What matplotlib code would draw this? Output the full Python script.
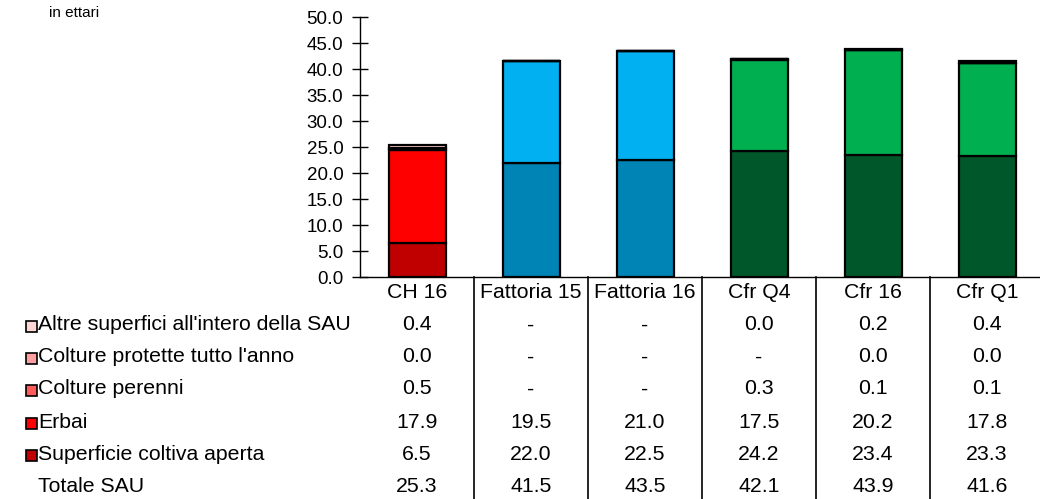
import matplotlib
matplotlib.use("Agg")
import matplotlib.pyplot as plt
import matplotlib.transforms as mtransforms
from matplotlib.patches import Rectangle

# --- data ---
categories = ["CH 16", "Fattoria 15", "Fattoria 16", "Cfr Q4", "Cfr 16", "Cfr Q1"]
superficie = [6.5, 22.0, 22.5, 24.2, 23.4, 23.3]
erbai = [17.9, 19.5, 21.0, 17.5, 20.2, 17.8]
perenni = [0.5, None, None, 0.3, 0.1, 0.1]
protette = [0.0, None, None, None, 0.0, 0.0]
altre = [0.4, None, None, 0.0, 0.2, 0.4]
totale = [25.3, 41.5, 43.5, 42.1, 43.9, 41.6]

series = [superficie, erbai, perenni, protette, altre]

red = ["#C00000", "#FF0000", "#FF5B5B", "#FF9F9F", "#FFD5D5"]
blue = ["#0083B5", "#00B0F0", "#66D0F6", "#A6E3FA", "#D6F3FD"]
green = ["#00582A", "#00B050", "#5FD08F", "#A0E4BC", "#D3F3E0"]
group_colors = [red, blue, blue, green, green, green]

plt.rcParams["font.family"] = ["Liberation Sans", "DejaVu Sans"]

W, H = 1040, 499
fig = plt.figure(figsize=(W / 100, H / 100), dpi=100)
ax = fig.add_axes([360 / W, 1 - 277 / H, 684 / W, 260 / H])

x = list(range(len(categories)))
bottom = [0.0] * len(categories)
for k, vals in enumerate(series):
    v = [0.0 if val is None else val for val in vals]
    cols = [group_colors[i][k] for i in x]
    ax.bar(x, v, 0.5, bottom=bottom, color=cols, edgecolor="black", linewidth=1.6, zorder=3)
    bottom = [b + d for b, d in zip(bottom, v)]

ax.set_xlim(-0.5, len(categories) - 0.5)
ax.set_ylim(0, 50)
ax.set_yticks([i * 5 for i in range(11)])
ax.set_yticklabels([f"{i * 5:.1f}" for i in range(11)], fontsize=13.5)
ax.tick_params(axis="y", direction="inout", length=12, width=1, pad=6)
ax.set_xticks([])
for s in ["top", "right"]:
    ax.spines[s].set_visible(False)
ax.spines["left"].set_linewidth(1)
ax.spines["bottom"].set_linewidth(1)

fig.text(49 / W, 1 - 13 / H, "in ettari", fontsize=11, va="center", ha="left")

# --- table under the chart ---
trans = mtransforms.blended_transform_factory(ax.transData, fig.transFigure)
fs = 15.3
header_y = 1 - 293 / H
for i, c in enumerate(categories):
    ax.text(i, header_y, c, transform=trans, ha="center", va="center", fontsize=fs, clip_on=False)

rows = [("Altre superfici all'intero della SAU", altre, red[4]),
        ("Colture protette tutto l'anno", protette, red[3]),
        ("Colture perenni", perenni, red[2]),
        ("Erbai", erbai, red[1]),
        ("Superficie coltiva aperta", superficie, red[0]),
        ("Totale SAU", totale, None)]
row_y = [325, 357, 389, 422, 454, 487]
for (label, vals, col), py in zip(rows, row_y):
    yy = 1 - py / H
    fig.text(38 / W, yy, label, fontsize=fs, ha="left", va="center")
    if col is not None:
        fig.patches.append(Rectangle((26 / W, 1 - (py + 7) / H), 11 / W, 11 / H,
                                     transform=fig.transFigure, facecolor=col,
                                     edgecolor="black", linewidth=1.2))
    for i, v in enumerate(vals):
        txt = "-" if v is None else f"{v:.1f}"
        ax.text(i, yy, txt, transform=trans, ha="center", va="center", fontsize=fs, clip_on=False)

for i in range(len(categories) - 1):
    ax.plot([i + 0.5, i + 0.5], [0, 1 - 277 / H], transform=trans, color="black",
            linewidth=1.2, clip_on=False)

fig.savefig("out.png", dpi=100)
